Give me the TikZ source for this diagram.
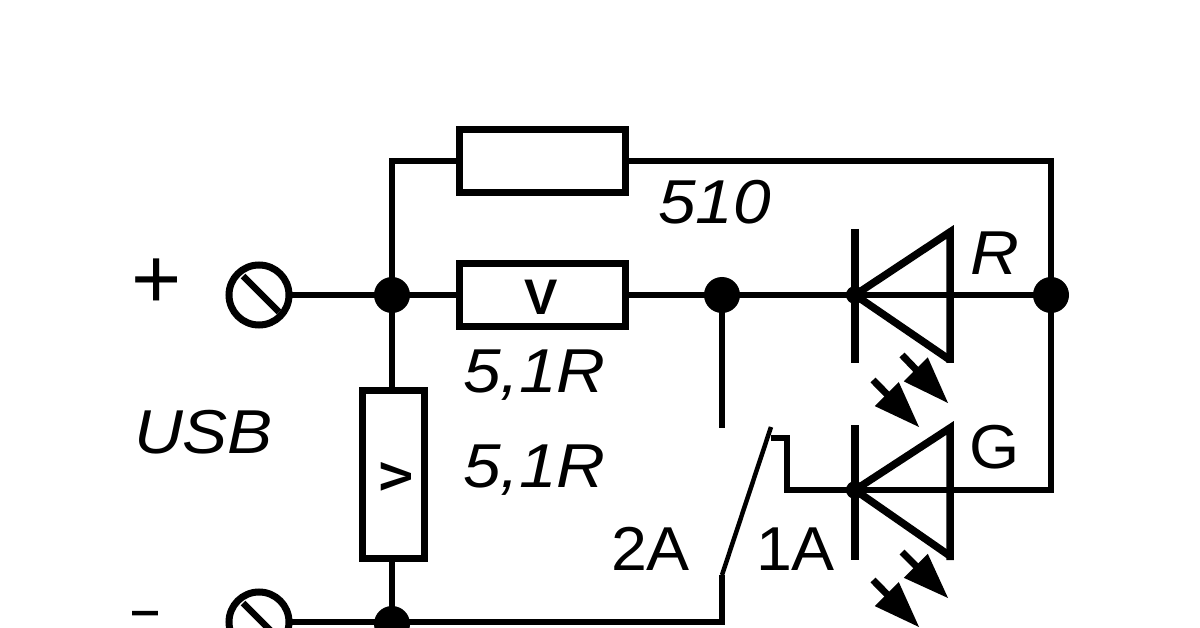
\documentclass[tikz,border=0pt]{standalone}
\usepackage{fontspec}
\setmainfont{Liberation Sans}
\newfontfamily\widefont[FakeStretch=1.09]{Liberation Sans}
\newfontfamily\lblupfont[FakeStretch=1.04]{Liberation Sans}
\newfontfamily\minusfont[FakeStretch=3.2,FakeBold=7]{Liberation Sans}
\usetikzlibrary{calc}
\tikzset{
  x=1pt,y=-1pt,
  wire/.style={line width=6.5pt,line cap=butt,line join=miter},
  res/.style={draw,line width=7pt,fill=none,rectangle,inner sep=0pt,outer sep=0pt},
  junction/.style={circle,fill=black,inner sep=0pt,outer sep=0pt,minimum size=36pt},
  terminal/.style={circle,draw,line width=7pt,inner sep=0pt,outer sep=0pt,minimum size=60pt},
  lbl/.style={anchor=base west,inner sep=0pt,outer sep=0pt,font=\widefont\fontsize{62}{62}\selectfont\itshape},
  lblup/.style={anchor=base west,inner sep=0pt,outer sep=0pt,font=\lblupfont\fontsize{62}{62}\selectfont},
  vmark/.style={inner sep=0pt,outer sep=0pt,font=\bfseries\fontsize{50}{50}\selectfont},
  vmarkb/.style={inner sep=0pt,outer sep=0pt,font=\bfseries\fontsize{44}{44}\selectfont},
  ledline/.style={line width=7.5pt,line cap=butt,line join=miter},
  lightshaft/.style={line width=7pt,line cap=butt},
}
\newcommand{\lightarrow}[2]{%
  \draw[lightshaft] (#1) -- ($(#1)!0.5!(#2)$);
  \fill ($(#1)!0.3!(#2)+(-12,12)$) -- (#2) -- ($(#1)!0.3!(#2)+(12,-12)$) -- cycle;
}
\begin{document}
\begin{tikzpicture}
\useasboundingbox (0,0) rectangle (1200,628);
\clip (0,0) rectangle (1200,628);
\fill[white] (0,0) rectangle (1200,628);
% coordinates
\coordinate (corner1) at (392,161);
\coordinate (corner2) at (1051,161);
\coordinate (corner3) at (1051,490);
\coordinate (sw1a) at (787,490);
\coordinate (sw1b) at (787,438);
\coordinate (swtip) at (771,438);
\coordinate (swtop) at (771,427);
\coordinate (swbot) at (722,575);
\coordinate (swopen) at (722,428);
\coordinate (botcorner) at (722,622);
% components
\node[res,minimum width=166pt,minimum height=63pt] (r510) at (542,161) {};
\node[res,minimum width=166pt,minimum height=63pt] (rv) at (542,295) {};
\node[res,minimum width=62pt,minimum height=168pt] (rh) at (393.5,474.5) {};
\node[vmark] (v1) at (541,297) {V};
\node[vmarkb,rotate=90] (v2) at (396,477) {V};
\node[terminal] (tplus) at (259,295) {};
\node[terminal] (tminus) at (259,622) {};
\node[junction] (j1) at (392,295) {};
\node[junction] (j2) at (722,295) {};
\node[junction] (j3) at (1051,295) {};
\node[junction] (j4) at (392,624) {};
% wires
\draw[wire] (tplus.east) -- (j1.center);
\draw[wire] (j1.center) -- (rv.west);
\draw[wire] (rv.east) -- (j2.center);
\draw[wire] (j2.center) -- (j3.center);
\draw[wire] (j1.center) -- (corner1) -- (r510.west);
\draw[wire] (r510.east) -- (corner2) -- (j3.center);
\draw[wire] (j3.center) -- (corner3) -- (sw1a) -- (sw1b) -- (swtip);
\draw[wire] (j1.center) -- (rh.north -| j1.center);
\draw[wire] (rh.south -| j4.center) -- (j4.center);
\draw[wire] (tminus.east) -- (botcorner) -- (swbot);
\draw[line width=4.5pt] (swbot) -- (swtop);
\draw[wire] (j2.center) -- (swopen);
% terminal slots
\draw[wire] (243,276) -- (279,312);
\draw[wire] (243,603) -- (279,639);
% LED R
\coordinate (ra) at (855,295);
\draw[ledline] (855,229) -- (855,363);
\draw[ledline] (ra) -- (950,232) -- (950,363);
\draw[ledline] (ra) -- (950,360);
\fill (ra) circle (9);
% LED G
\coordinate (ga) at (855,490);
\draw[ledline] (855,425) -- (855,560);
\draw[ledline] (ga) -- (950,428) -- (950,560);
\draw[ledline] (ga) -- (950,556);
\fill (ga) circle (9);
% light arrows
\coordinate (a1s) at (902,355); \coordinate (a1e) at (948,403);
\coordinate (a2s) at (873,380); \coordinate (a2e) at (919,427);
\coordinate (a3s) at (902,552); \coordinate (a3e) at (948,598);
\coordinate (a4s) at (873,580); \coordinate (a4e) at (919,627);
\lightarrow{a1s}{a1e}
\lightarrow{a2s}{a2e}
\lightarrow{a3s}{a3e}
\lightarrow{a4s}{a4e}
% labels
\node[lbl] (t510) at (658,224) {510};
\node[lbl] (t51a) at (463,392) {5,1R};
\node[lbl] (t51b) at (463,487) {5,1R};
\node[lbl] (tusb) at (134,453) {USB};
\node[lbl] (tr) at (970,275) {R};
\node[lblup] (tg) at (969,468) {G};
\node[lblup] (t2a) at (611,570) {2A};
\node[lblup] (t1a) at (756,570) {1A};
\node[inner sep=0pt,font=\fontsize{86}{86}\selectfont] (tp) at (157,284) {+};
\node[anchor=base,inner sep=0pt,font=\minusfont\fontsize{30}{30}\selectfont] (tm) at (145,621) {-};
\end{tikzpicture}
\end{document}
